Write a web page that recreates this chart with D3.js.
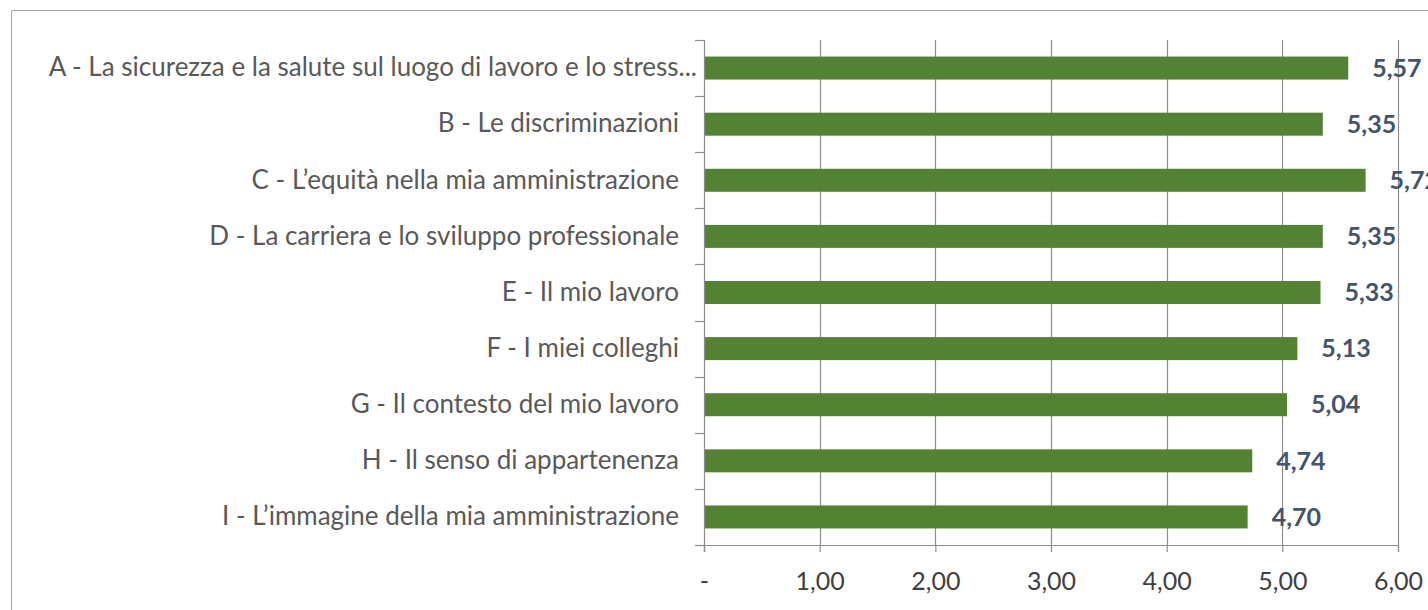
<!DOCTYPE html>
<html><head><meta charset="utf-8">
<script src="https://cdn.jsdelivr.net/npm/d3@7"></script>
<style>
html,body{margin:0;padding:0;background:#fff;overflow:hidden;}
svg{display:block;}
text{font-family:Lato,"Open Sans",sans-serif;}
</style></head>
<body>
<svg id="chart" width="1428" height="610"></svg>
<script>
const categories = [
  "A - La sicurezza e la salute sul luogo di lavoro e lo stress...",
  "B - Le discriminazioni",
  "C - L\u2019equità nella mia amministrazione",
  "D - La carriera e lo sviluppo professionale",
  "E - Il mio lavoro",
  "F - I miei colleghi",
  "G - Il contesto del mio lavoro",
  "H - Il senso di appartenenza",
  "I - L\u2019immagine della mia amministrazione"
];
const values = [5.57, 5.35, 5.72, 5.35, 5.33, 5.13, 5.04, 4.74, 4.70];
const tickValues = [0, 1, 2, 3, 4, 5, 6];
const tickLabels = ["-", "1,00", "2,00", "3,00", "4,00", "5,00", "6,00"];

const svg = d3.select("#chart");
const L = 704, R = 1398, T = 40, B = 545;

// outer frame
svg.append("path").attr("d", "M11.5,610 L11.5,10.5 L1428,10.5")
  .attr("fill", "none").attr("stroke", "#a6a6a6").attr("stroke-width", 1);

const x = d3.scaleLinear().domain([0, 6]).range([L, R]);
const yb = d3.scaleBand().domain(categories).range([T, B]);
const barH = 23;

// gridlines
svg.append("g").selectAll("line").data(tickValues.slice(1)).join("line")
  .attr("x1", d => Math.round(x(d)) + 0.5).attr("x2", d => Math.round(x(d)) + 0.5)
  .attr("y1", T).attr("y2", B)
  .attr("stroke", "#8c8c8c").attr("stroke-width", 1.2);

// bars
svg.append("g").selectAll("rect").data(values).join("rect")
  .attr("x", x(0))
  .attr("y", (d, i) => yb(categories[i]) + (yb.bandwidth() - barH) / 2)
  .attr("width", d => x(d) - x(0))
  .attr("height", barH)
  .attr("fill", "#548235");

// y axis line with ticks at band boundaries
const yAxisG = svg.append("g");
yAxisG.append("line").attr("x1", L + 0.5).attr("x2", L + 0.5).attr("y1", T).attr("y2", B + 7)
  .attr("stroke", "#8c8c8c").attr("stroke-width", 1.2);
const bounds = categories.map(c => yb(c)).concat([B]);
yAxisG.selectAll("line.t").data(bounds).join("line").attr("class", "t")
  .attr("x1", L - 9).attr("x2", L).attr("y1", d => Math.round(d) + 0.5).attr("y2", d => Math.round(d) + 0.5)
  .attr("stroke", "#8c8c8c").attr("stroke-width", 1.2);

// x axis
const xAxis = d3.axisBottom(x).tickValues(tickValues).tickSize(7).tickPadding(20)
  .tickFormat((d, i) => tickLabels[i]);
const xg = svg.append("g").attr("transform", `translate(0,${B})`).call(xAxis);
xg.select(".domain").attr("stroke", "#8c8c8c").attr("stroke-width", 1.2);
xg.selectAll(".tick line").attr("stroke", "#8c8c8c").attr("stroke-width", 1.2);
xg.selectAll(".tick text").attr("fill", "#404040").attr("font-size", 25)
  .style("font-family", "Lato, sans-serif");

// category labels
svg.append("g").selectAll("text").data(categories).join("text")
  .attr("x", d => d.endsWith("...") ? 697 : 679)
  .attr("y", d => yb(d) + yb.bandwidth() / 2)
  .attr("dy", "0.32em")
  .attr("text-anchor", "end")
  .attr("fill", "#595959")
  .attr("font-size", 26)
  .text(d => d);

// value labels
svg.append("g").selectAll("text").data(values).join("text")
  .attr("x", d => x(d) + 24)
  .attr("y", (d, i) => yb(categories[i]) + yb.bandwidth() / 2)
  .attr("dy", "0.35em")
  .attr("fill", "#44546a")
  .attr("font-size", 25)
  .attr("font-weight", "bold")
  .text(d => d.toFixed(2).replace(".", ","));
</script>
</body></html>
